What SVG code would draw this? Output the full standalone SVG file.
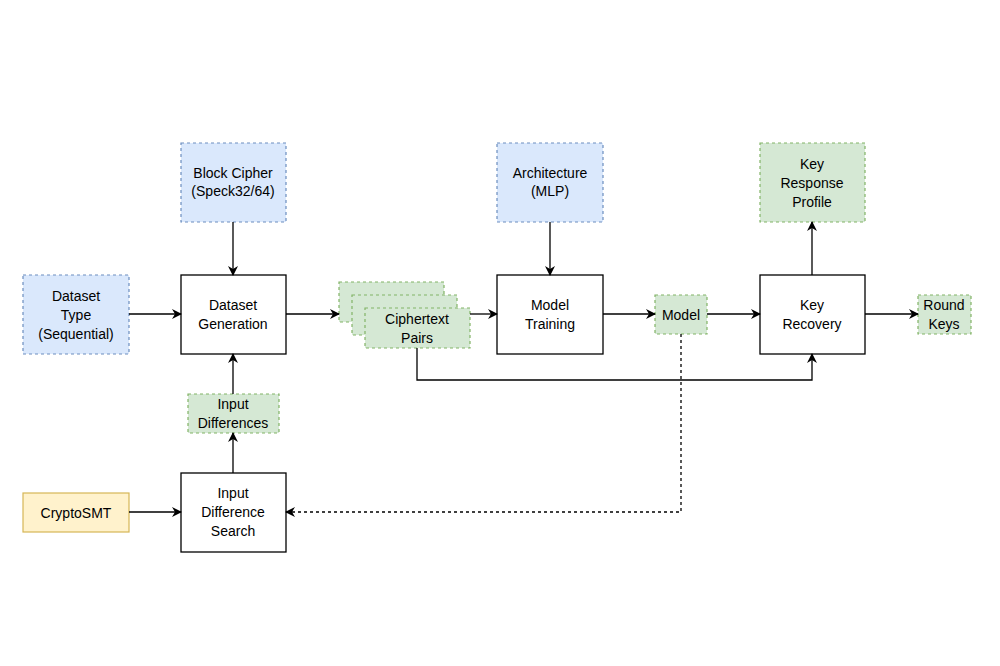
<svg xmlns="http://www.w3.org/2000/svg" width="1000" height="666" viewBox="0 0 1000 666">
<defs>
<marker id="a" markerWidth="10" markerHeight="10" refX="9" refY="5" orient="auto" markerUnits="userSpaceOnUse"><path d="M0,0 L10,5 L0,10 L3,5 Z" fill="#000"/></marker>
<style>
.p{fill:#fff;stroke:#000;stroke-width:1.3}
.b{fill:#dae8fc;stroke:#6c8ebf;stroke-dasharray:3 3;stroke-width:1.2}
.g{fill:#d5e8d4;stroke:#82b366;stroke-dasharray:3 3;stroke-width:1.2}
.y{fill:#fff2cc;stroke:#d6b656;stroke-width:1.2}
text{font-family:"Liberation Sans",Arial,sans-serif;font-size:14px;text-anchor:middle;fill:#000}
.c path{fill:none;stroke:#000;stroke-width:1.3;marker-end:url(#a)}
</style>
</defs>
<rect width="1000" height="666" fill="#fff"/>
<g id="blockcipher"><rect class="b" x="181" y="143" width="105" height="79"/><text x="233" y="178">Block Cipher</text><text x="233" y="196">(Speck32/64)</text></g>
<g id="arch"><rect class="b" x="497" y="143" width="106" height="79"/><text x="550" y="178">Architecture</text><text x="550" y="196">(MLP)</text></g>
<g id="krp"><rect class="g" x="760" y="143" width="105" height="79"/><text x="812" y="169">Key</text><text x="812" y="188">Response</text><text x="812" y="207">Profile</text></g>
<g id="dtype"><rect class="b" x="23" y="275" width="106" height="79"/><text x="76" y="301">Dataset</text><text x="76" y="320">Type</text><text x="76" y="339">(Sequential)</text></g>
<g id="dgen"><rect class="p" x="181" y="275" width="105" height="79"/><text x="233" y="310">Dataset</text><text x="233" y="329">Generation</text></g>
<g id="cpairs"><rect class="g" x="339" y="282" width="105" height="40"/><rect class="g" x="352" y="295" width="105" height="40"/><rect class="g" x="365" y="308" width="105" height="40"/><text x="417" y="324">Ciphertext</text><text x="417" y="343">Pairs</text></g>
<g id="mtrain"><rect class="p" x="497" y="275" width="106" height="79"/><text x="550" y="310">Model</text><text x="550" y="329">Training</text></g>
<g id="model"><rect class="g" x="655" y="295" width="52" height="39"/><text x="681" y="320">Model</text></g>
<g id="krec"><rect class="p" x="760" y="275" width="105" height="79"/><text x="812" y="310">Key</text><text x="812" y="329">Recovery</text></g>
<g id="rkeys"><rect class="g" x="918" y="295" width="53" height="39"/><text x="944" y="310">Round</text><text x="944" y="329">Keys</text></g>
<g id="idiff"><rect class="g" x="188" y="394" width="91" height="39"/><text x="233" y="409">Input</text><text x="233" y="428">Differences</text></g>
<g id="csmt"><rect class="y" x="23" y="493" width="106" height="39"/><text x="76" y="518">CryptoSMT</text></g>
<g id="ids"><rect class="p" x="181" y="473" width="105" height="79"/><text x="233" y="498">Input</text><text x="233" y="517">Difference</text><text x="233" y="536">Search</text></g>
<g class="c">
<path d="M233,222 V275"/><path d="M550,222 V275"/><path d="M812,275 V222"/>
<path d="M129,314 H181"/><path d="M286,314 H339"/><path d="M470,314 H497"/>
<path d="M603,314 H655"/><path d="M707,314 H760"/><path d="M865,314 H918"/>
<path d="M233,394 V354"/><path d="M233,473 V433"/><path d="M129,512 H181"/>
<path d="M417,348 V380 H812 V354"/>
<path d="M681,334 V512 H286" stroke-dasharray="3 3"/>
</g>
</svg>
